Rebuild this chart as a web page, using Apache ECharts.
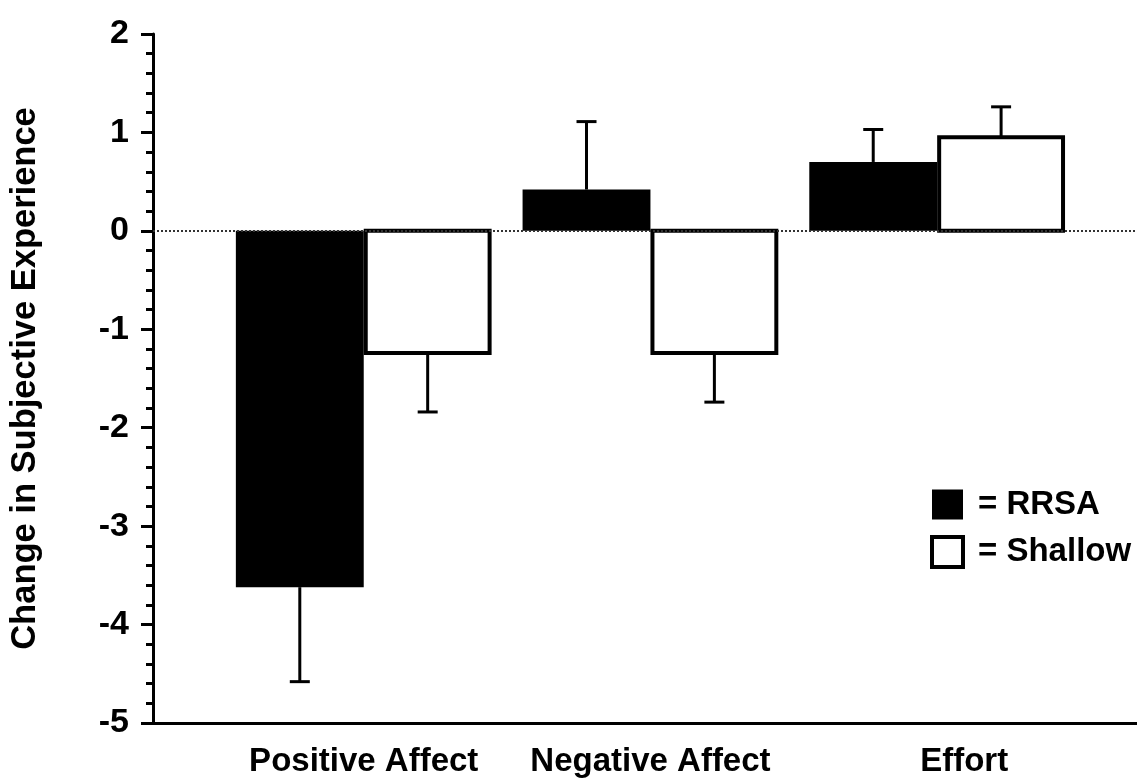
<!DOCTYPE html>
<html>
<head>
<meta charset="utf-8">
<script src="https://cdn.jsdelivr.net/npm/echarts@6/dist/echarts.min.js"></script>
<style>
	html, body { margin: 0; padding: 0; background: #ffffff; }
	#echart1 { width: 1137px; height: 782px; }
</style>
</head>
<body>
<div id="echart1"></div>
<script>
var categories = [ 'Positive Affect', 'Negative Affect', 'Effort' ];
var rrsaValues = [ -3.62, 0.42, 0.70 ];
var rrsaErrors = [ 0.96, 0.69, 0.33 ];
var shallowValues = [ -1.24, -1.24, 0.95 ];
var shallowErrors = [ 0.60, 0.50, 0.31 ];
var yTicks = [ -5, -4, -3, -2, -1, 0, 1, 2 ];

var FONT = 'Liberation Sans, Arial, sans-serif';
var BAR_W = 0.446; // 柱宽(x轴单位)

function buildData(values, errors) {
	var arr = [];
	for (var i = 0; i < values.length; i++) {
		arr.push([ i, values[i], errors[i] ]);
	}
	return arr;
}

// side: -1 左侧柱, 1 右侧柱
function makeRender(side, filled) {
	return function(params, api) {
		var cat = api.value(0);
		var val = api.value(1);
		var err = api.value(2);
		var x0 = side < 0 ? cat - BAR_W : cat;
		var x1 = side < 0 ? cat : cat + BAR_W;
		var p0 = api.coord([ x0, 0 ]);
		var p1 = api.coord([ x1, val ]);
		var tip = api.coord([ cat + side * BAR_W / 2, val + (val < 0 ? -err : err) ]);
		var mid = (p0[0] + p1[0]) / 2;
		var children = [];
		// 误差线
		children.push({
			type : 'line',
			shape : { x1 : mid, y1 : p1[1], x2 : mid, y2 : tip[1] },
			style : { stroke : '#000', lineWidth : 3 }
		});
		children.push({
			type : 'line',
			shape : { x1 : mid - 10, y1 : tip[1], x2 : mid + 10, y2 : tip[1] },
			style : { stroke : '#000', lineWidth : 3 }
		});
		var top = Math.min(p0[1], p1[1]);
		var h = Math.abs(p1[1] - p0[1]);
		if (filled) {
			children.push({
				type : 'rect',
				shape : { x : p0[0], y : top, width : p1[0] - p0[0], height : h },
				style : { fill : '#000' }
			});
		} else {
			children.push({
				type : 'rect',
				shape : { x : p0[0] + 2, y : top, width : p1[0] - p0[0] - 4, height : h },
				style : { fill : '#fff', stroke : '#000', lineWidth : 4 }
			});
		}
		return { type : 'group', children : children };
	};
}

var option = {
	backgroundColor : '#ffffff',
	animation : false,
	textStyle : { fontFamily : FONT },
	grid : {
		left : 152,
		right : 0,
		top : 34,
		bottom : 59
	},
	legend : {
		orient : 'vertical',
		left : 925,
		top : 483,
		itemWidth : 31,
		itemHeight : 30,
		itemGap : 14,
		selectedMode : false,
		textStyle : {
			fontFamily : FONT,
			fontSize : 33,
			fontWeight : 'bold',
			color : '#000',
			padding : [ 0, 0, 0, 10 ]
		},
		formatter : function(name) { return '= ' + name; },
		data : [
			{ name : 'RRSA', icon : 'rect', itemStyle : { color : '#000', borderWidth : 0 } },
			{ name : 'Shallow', icon : 'rect', itemStyle : { color : '#fff', borderColor : '#000', borderWidth : 4 } }
		]
	},
	xAxis : {
		type : 'value',
		min : -0.735,
		max : 2.697,
		splitLine : { show : false },
		axisLine : {
			onZero : false,
			lineStyle : { color : '#000', width : 3 }
		},
		axisTick : { show : false },
		axisLabel : {
			customValues : [ 0, 1, 2 ],
			margin : 22,
			color : '#000',
			fontFamily : FONT,
			fontSize : 33,
			fontWeight : 'bold',
			formatter : function(v) {
				var name = categories[Math.round(v)];
				return name === 'Effort' ? '{e|' + name + '}' : name;
			},
			rich : {
				e : {
					fontFamily : FONT,
					fontSize : 33,
					fontWeight : 'bold',
					color : '#000',
					padding : [ 0, 0, 0, 54 ]
				}
			}
		}
	},
	yAxis : {
		type : 'value',
		min : yTicks[0],
		max : yTicks[yTicks.length - 1],
		interval : 1,
		name : 'Change in Subjective Experience',
		nameLocation : 'middle',
		nameGap : 110,
		nameRotate : 90,
		nameTextStyle : {
			fontFamily : FONT,
			fontSize : 34.5,
			fontWeight : 'bold',
			color : '#000'
		},
		splitLine : { show : false }, // 去除网格线
		axisLine : {
			onZero : false,
			lineStyle : { color : '#000', width : 3 }
		},
		axisTick : {
			length : 12,
			lineStyle : { color : '#000', width : 3 }
		},
		minorTick : {
			show : true,
			splitNumber : 5,
			length : 7,
			lineStyle : { color : '#000', width : 3 }
		},
		axisLabel : {
			margin : 24,
			color : '#000',
			fontFamily : FONT,
			fontSize : 34,
			fontWeight : 'bold'
		}
	},
	series : [ {
		name : 'RRSA',
		type : 'custom',
		itemStyle : { color : '#000' },
		renderItem : makeRender(-1, true),
		encode : { x : 0, y : 1 },
		data : buildData(rrsaValues, rrsaErrors),
		z : 2
	}, {
		name : 'Shallow',
		type : 'custom',
		itemStyle : { color : '#fff', borderColor : '#000', borderWidth : 4 },
		renderItem : makeRender(1, false),
		encode : { x : 0, y : 1 },
		data : buildData(shallowValues, shallowErrors),
		z : 2,
		markLine : {
			silent : true,
			symbol : 'none',
			label : { show : false },
			lineStyle : { color : '#333', type : [ 2, 2 ], width : 2 },
			data : [ { yAxis : 0 } ],
			z : 5
		}
	} ]
};

var myChart = echarts.init(document.getElementById('echart1'));
myChart.setOption(option, true);
</script>
</body>
</html>
